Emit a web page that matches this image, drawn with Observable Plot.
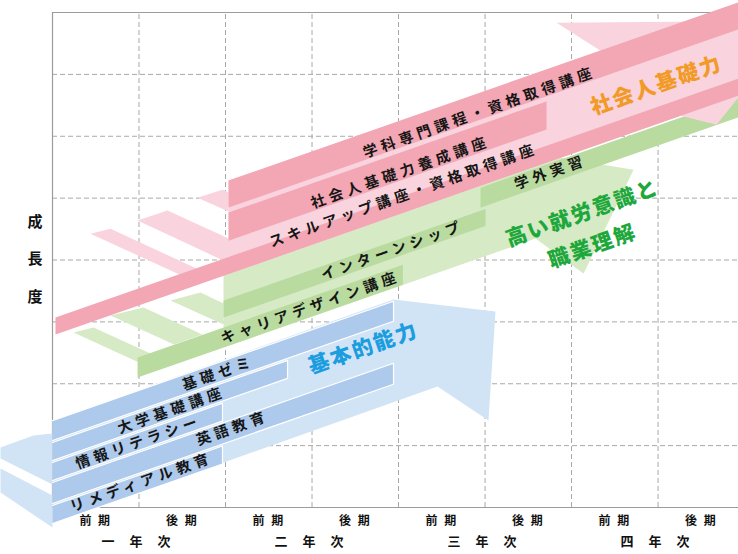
<!DOCTYPE html>
<html><head><meta charset="utf-8">
<script src="https://cdn.jsdelivr.net/npm/d3@7"></script>
<script src="https://cdn.jsdelivr.net/npm/@observablehq/plot@0.6"></script>
<style>
html,body{margin:0;padding:0;background:#fff;overflow:hidden;}
#chart{width:738px;height:554px;overflow:hidden;}
</style></head><body><div id="chart"></div>
<script>
// growth per semester along every band
const slope = 0.489;

// axis labels
const semesterLabels = ["前 期","後 期","前 期","後 期","前 期","後 期","前 期","後 期"];
const semesterCenters = [0.5,1.5,2.5,3.5,4.5,5.5,6.5,7.5];
const yearLabels = ["一 年 次","二 年 次","三 年 次","四 年 次"];
const yearCenters = [1,3,5,7];
const gridSemesters = [1,2,3,4,5,6,7];
const gridLevels = [1,2,3,4,5,6,7];
const yTitle = "成長度";

// big arrows (semester, growth level)
const blueArrow = [[0,1.405],[3.942,3.36],[5.121,3.166],[5.04,1.405],[4.451,1.955],[0,-0.258]];
const blueTail = [
  [[-0.601,0.969],[-0.22,1.163],[0,1.195],[0,0.372],[-0.601,0.792]],
  [[-0.601,0.63],[0,0.194],[0,-0.323],[-0.601,0.242]]
];
const greenArrow = [[1.977,3.748],[5.873,5.654],[6.717,5.46],[6.139,3.78],[5.584,4.346],[1.977,2.585]];
const greenTail = [
  [[0.243,2.827],[0.474,2.908],[1.41,2.31],[1.202,2.213]],
  [[0.671,3.102],[1.052,3.231],[1.734,2.795],[1.405,2.633]],
  [[1.364,3.344],[1.711,3.473],[1.977,3.296],[1.977,2.956]]
];
const pinkArrow = [[2.035,5.283],[6.335,7.383],[5.827,7.835],[8.647,7.868],[7.676,6.187],[7.26,6.333],[2.035,3.772]];
const pinkTail = [
  [[0.439,4.426],[0.671,4.507],[1.665,3.861],[1.468,3.764]],
  [[0.983,4.637],[1.329,4.798],[2.301,4.176],[1.954,4.006]],
  [[1.676,5.008],[1.965,5.137],[2.035,5.089],[2.035,4.782]]
];

// course bars: [start semester, end semester, level of lower edge at start, band thickness]
const blueBars = [
  [0,3.942,1.082,0.323],
  [0,2.717,0.759,0.291],
  [0,1.965,0.436,0.291],
  [0,3.942,0.065,0.339],
  [0,1.965,-0.258,0.291]
];
const greenBars = [
  [0.983,4.05,2.1,0.323],
  [1.977,5.006,3.069,0.275],
  [4.948,8.3,4.846,0.323]
];
const pinkBars = [
  [0.035,8.3,2.795,0.275],
  [2.035,7.93,4.847,0.436],
  [2.035,5.711,4.313,0.453]
];

// labels
const courseNames = ["学科専門課程・資格取得講座","社会人基礎力養成講座","スキルアップ講座・資格取得講座","学外実習","インターンシップ","キャリアデザイン講座","基礎ゼミ","大学基礎講座","情報リテラシー","英語教育","リメディアル教育"];
const courseX = [4.936,4.023,4.058,5.757,3.931,2.983,1.919,1.376,0.994,2.081,1.029];
const courseY = [6.381,5.412,5.04,5.412,4.152,3.231,2.165,1.567,1.05,1.276,0.404];
const goalNames = ["社会人基礎力","高い就労意識と","職業理解","基本的能力"];
const goalX = [6.983,6.127,6.243,3.595];
const goalY = [6.817,4.75,4.216,2.569];

// styles
const C = {
  blueLight:"#d1e4f6", blueDark:"#adc9eb",
  greenLight:"#d6eac6", greenDark:"#b9db9f",
  pinkLight:"#f9d3dd", pinkDark:"#f3a6b4",
  grid:"#a8a8a8", frame:"#9c9c9c"
};
const goalColors = ["#f29a26","#1ea83c","#1ea83c","#1b9de0"];
const font = "'Noto Sans CJK JP','Noto Sans',sans-serif";

function rows(polys, prefix){
  const out = [];
  polys.forEach((p,i)=>p.forEach(([x,y])=>out.push({id:prefix+i,x,y})));
  return out;
}
function barPoly([x0,x1,b,h]){
  const d = slope*(x1-x0);
  return [[x0,b],[x1,b+d],[x1,b+h+d],[x0,b+h]];
}
const poly = (data, fill, extra={}) => Plot.line(data,{x:"x",y:"y",z:"id",fill,stroke:"none",curve:"linear",...extra});

const courses = courseNames.map((t,i)=>({t,x:courseX[i],y:courseY[i]}));
const goals = goalNames.map((t,i)=>({t,x:goalX[i],y:goalY[i],c:goalColors[i]}));
const sems = semesterLabels.map((t,i)=>({t,x:semesterCenters[i]}));
const yrs = yearLabels.map((t,i)=>({t,x:yearCenters[i]}));

const chart = Plot.plot({
  width:738, height:554,
  marginLeft:52, marginRight:0, marginTop:12, marginBottom:47,
  x:{domain:[0,7.93], axis:null},
  y:{domain:[0,8], axis:null},
  style:{fontFamily:font, background:"#fff"},
  marks:[
    Plot.ruleX(gridSemesters,{y1:0,y2:8,stroke:C.grid,strokeDasharray:"5,3",strokeWidth:1}),
    Plot.ruleY(gridLevels,{x1:0,x2:7.93,stroke:C.grid,strokeDasharray:"5,3",strokeWidth:1}),
    Plot.ruleX([0],{y1:0,y2:8,stroke:C.frame,strokeWidth:1.2}),
    Plot.ruleY([0,8],{x1:0,x2:7.93,stroke:C.frame,strokeWidth:1.2}),
    // blue group
    poly(rows([blueArrow],"ba"), C.blueLight),
    poly(rows(blueTail,"bt"), C.blueLight),
    poly(rows(blueBars.map(barPoly),"bb"), C.blueDark, {stroke:"#ffffff", strokeWidth:1.2}),
    // green group
    poly(rows([greenArrow],"ga"), C.greenLight),
    poly(rows(greenTail,"gt"), C.greenLight),
    poly(rows(greenBars.map(barPoly),"gb"), C.greenDark),
    // pink group
    poly(rows([pinkArrow],"pa"), C.pinkLight),
    poly(rows(pinkTail,"pt"), C.pinkLight),
    poly(rows(pinkBars.map(barPoly),"pb"), C.pinkDark),
    // labels
    Plot.text(courses,{x:"x",y:"y",text:"t",rotate:-19.5,fontSize:14.5,fontWeight:"bold",fill:"#161616",ariaDescription:"course"}),
    Plot.text(goals,{x:"x",y:"y",text:"t",rotate:-19.5,fontSize:21,fontWeight:"900",fill:d=>d.c,ariaDescription:"goal"}),
    Plot.text(sems,{x:"x",text:"t",frameAnchor:"bottom",dy:17,fontSize:12,fontWeight:"bold",fill:"#111",ariaDescription:"sem"}),
    Plot.text(yrs,{x:"x",text:"t",frameAnchor:"bottom",dy:38,fontSize:13,fontWeight:"bold",fill:"#111",ariaDescription:"yr"}),
    Plot.text([yTitle.split("").join("\n")],{text:d=>d,frameAnchor:"left",dx:-25,dy:-8,lineHeight:2.5,fontSize:15,fontWeight:"bold",fill:"#111"})
  ]
});
document.getElementById("chart").appendChild(chart);
const svg = d3.select(chart);
const sp = {course:"4.4px", goal:"2px", sem:"2px", yr:"6px"};
Object.entries(sp).forEach(([k,v])=>{
  svg.selectAll(`g[aria-description="${k}"] text`).attr("letter-spacing", v);
});
</script></body></html>
